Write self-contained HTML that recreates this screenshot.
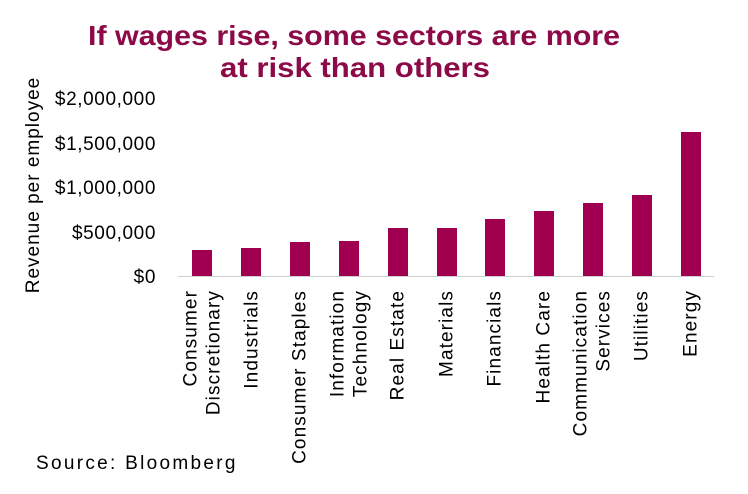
<!DOCTYPE html>
<html><head><meta charset="utf-8"><style>
html,body{margin:0;padding:0;background:#fff;}
svg{display:block;font-family:"Liberation Sans",Arial,sans-serif;}
</style></head><body>
<svg width="748" height="494" viewBox="0 0 748 494">
<g fill="#8c0a47" font-weight="bold" font-size="28">
<text x="88" y="45" textLength="532" lengthAdjust="spacingAndGlyphs">If wages rise, some sectors are more</text>
<text x="220" y="77" textLength="270" lengthAdjust="spacingAndGlyphs">at risk than others</text>
</g>
<g font-size="19" fill="#000" text-anchor="end" letter-spacing="0.6">
<text x="156" y="105">$2,000,000</text>
<text x="156" y="150">$1,500,000</text>
<text x="156" y="194">$1,000,000</text>
<text x="156" y="239">$500,000</text>
<text x="156" y="283">$0</text>
</g>
<text transform="translate(39,185) rotate(-90)" text-anchor="middle" font-size="19" letter-spacing="1">Revenue per employee</text>
<line x1="178" y1="276.5" x2="714" y2="276.5" stroke="#d0d0d0" stroke-width="1"/>
<g fill="#a0004f">
<rect x="192" y="250" width="20" height="26"/>
<rect x="241" y="248" width="20" height="28"/>
<rect x="290" y="242" width="20" height="34"/>
<rect x="339" y="241" width="20" height="35"/>
<rect x="388" y="228" width="20" height="48"/>
<rect x="437" y="228" width="20" height="48"/>
<rect x="485" y="219" width="20" height="57"/>
<rect x="534" y="211" width="20" height="65"/>
<rect x="583" y="203" width="20" height="73"/>
<rect x="632" y="195" width="20" height="81"/>
<rect x="681" y="132" width="20" height="144"/>
</g>
<g font-size="19" fill="#000" text-anchor="end" letter-spacing="1.1" dominant-baseline="central">
<text transform="translate(191,290) rotate(-90)">Consumer</text>
<text transform="translate(214,290) rotate(-90)">Discretionary</text>
<text transform="translate(252,290) rotate(-90)">Industrials</text>
<text transform="translate(300,290) rotate(-90)">Consumer Staples</text>
<text transform="translate(338,290) rotate(-90)">Information</text>
<text transform="translate(361,290) rotate(-90)">Technology</text>
<text transform="translate(398,290) rotate(-90)">Real Estate</text>
<text transform="translate(447,290) rotate(-90)">Materials</text>
<text transform="translate(495,290) rotate(-90)">Financials</text>
<text transform="translate(544,290) rotate(-90)">Health Care</text>
<text transform="translate(581,290) rotate(-90)">Communication</text>
<text transform="translate(604,290) rotate(-90)">Services</text>
<text transform="translate(642,290) rotate(-90)">Utilities</text>
<text transform="translate(691,290) rotate(-90)">Energy</text>
</g>
<text x="36" y="469" font-size="19" letter-spacing="2.3">Source: Bloomberg</text>
</svg>
</body></html>
